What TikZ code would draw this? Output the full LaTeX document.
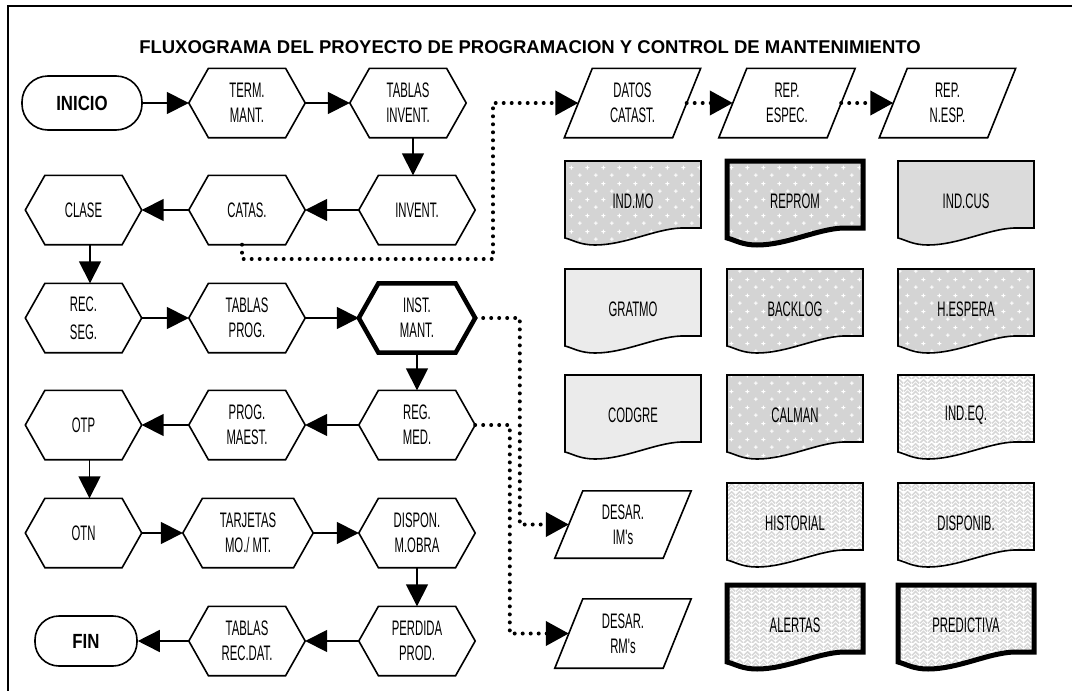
\documentclass[tikz,border=0pt]{standalone}
\usepackage{fontspec}
\setmainfont{Liberation Sans}
\newfontfamily\narrowfont[FakeStretch=0.54]{Liberation Sans}
\newfontfamily\narrowbold[FakeStretch=0.82]{Liberation Sans}
\usetikzlibrary{arrows.meta,patterns.meta}

\tikzdeclarepattern{
  name=plusdots, type=uncolored,
  bottom left={(0pt,0pt)}, top right={(16pt,16pt)},
  tile size={(16pt,16pt)},
  code={
    \draw[line width=1pt] (2pt,4pt) -- (6pt,4pt) (4pt,2pt) -- (4pt,6pt)
      (10pt,12pt) -- (14pt,12pt) (12pt,10pt) -- (12pt,14pt);
  }
}
\tikzdeclarepattern{
  name=weave, type=uncolored,
  bottom left={(0pt,0pt)}, top right={(8pt,8pt)},
  tile size={(8pt,8pt)},
  code={
    \draw[line width=1.6pt] (0pt,0pt) -- (4pt,4pt) -- (8pt,0pt)
      (0pt,4pt) -- (4pt,8pt) -- (8pt,4pt);
  }
}

% document symbol: top left corner at (#2,#3)
\newcommand\docbox[5]{%
  \begin{scope}[shift={(#2,#3)}]
    \draw[#4] (0,0) -- (136,0) -- (136,67) -- (116,67)
      .. controls (90,68) and (60,84) .. (30,84)
      .. controls (15,84) and (8,79) .. (0,77) -- cycle;
    \node[doctext] (#1) at (68,40) {#5};
  \end{scope}}

\begin{document}
\begin{tikzpicture}[x=1pt,y=-1pt,
    hexa/.style={minimum width=116pt,minimum height=69pt,inner sep=0pt,align=center,
      font=\narrowfont\fontsize{21pt}{25pt}\selectfont},
    para/.style={hexa,minimum width=136pt},
    term/.style={draw,line width=1.6pt,rounded corners=26pt,minimum width=120pt,
      minimum height=54pt,inner sep=0pt,font=\narrowbold\bfseries\fontsize{20.5pt}{22pt}\selectfont},
    hexline/.style={line width=1.6pt},
    arr/.style={line width=1.6pt,-{Triangle[length=22pt,width=22pt]}},
    dotarr/.style={line width=4pt,line cap=round,dash pattern=on 0pt off 8pt,
      -{Triangle[length=23pt,width=24pt]}},
    doctext/.style={inner sep=0pt,font=\narrowfont\fontsize{21pt}{25pt}\selectfont},
    docline/.style={line width=1.6pt},
    heavy/.style={line width=5pt},
    dotsfill/.style={docline,preaction={fill=gray!34},pattern=plusdots,pattern color=white},
    checkfill/.style={docline,fill=gray!28},
    plainfill/.style={docline,fill=gray!16},
    weavefill/.style={docline,pattern=weave,pattern color=gray!32}]
  \useasboundingbox (0,0) rectangle (1072,691);
  \draw[line width=2.5pt] (8,691) -- (8,6) -- (1072,6);

  \node[font=\bfseries\fontsize{18.5pt}{22pt}\selectfont] (title) at (530,47)
    {FLUXOGRAMA DEL PROYECTO DE PROGRAMACION Y CONTROL DE MANTENIMIENTO};

  % main flow
  \node[term] (inicio) at (82,103) {INICIO};
  \node[hexa] (termm) at (247,103) {TERM.\\MANT.};
  \node[hexa] (tabinv) at (408,103) {TABLAS\\INVENT.};
  \node[hexa] (invent) at (417,210) {INVENT.};
  \node[hexa] (catas) at (247,210) {CATAS.};
  \node[hexa] (clase) at (83.5,210) {CLASE};
  \node[hexa] (recseg) at (83.5,318) {REC.\\[3pt]SEG.};
  \node[hexa] (tabprog) at (247,318) {TABLAS\\PROG.};
  \node[hexa] (instm) at (417,318) {INST.\\MANT.};
  \node[hexa] (regmed) at (417,425) {REG.\\MED.};
  \node[hexa] (progm) at (247,425) {PROG.\\MAEST.};
  \node[hexa] (otp) at (83.5,425) {OTP};
  \node[hexa] (otn) at (83.5,533) {OTN};
  \node[hexa,minimum width=130pt] (tarj) at (248,533) {TARJETAS\\MO./ MT.};
  \node[hexa] (dispon) at (417,533) {DISPON.\\M.OBRA};
  \node[hexa] (perdida) at (417,641) {PERDIDA\\PROD.};
  \node[hexa] (tabrec) at (247,641) {TABLAS\\REC.DAT.};
  \node[term,minimum width=102pt,minimum height=50pt,rounded corners=24pt] (fin) at (86,641) {FIN};

  \foreach \n in {termm,tabinv,invent,catas,clase,recseg,tabprog,regmed,progm,otp,otn,tarj,dispon,perdida,tabrec}
    \draw[hexline] (\n.west) -- ([xshift=19.6pt]\n.north west) -- ([xshift=-19.6pt]\n.north east)
      -- (\n.east) -- ([xshift=-19.6pt]\n.south east) -- ([xshift=19.6pt]\n.south west) -- cycle;
  \draw[line width=4.5pt] (instm.west) -- ([xshift=19.6pt]instm.north west) -- ([xshift=-19.6pt]instm.north east)
      -- (instm.east) -- ([xshift=-19.6pt]instm.south east) -- ([xshift=19.6pt]instm.south west) -- cycle;

  \draw[arr] (inicio) -- (termm);
  \draw[arr] (termm) -- (tabinv);
  \draw[arr] ([xshift=5pt]tabinv.south) -- ([xshift=-4pt]invent.north);
  \draw[arr] (invent) -- (catas);
  \draw[arr] (catas) -- (clase);
  \draw[arr] ([xshift=6.5pt]clase.south) -- ([xshift=6.5pt]recseg.north);
  \draw[arr] (recseg) -- (tabprog);
  \draw[arr] (tabprog) -- (instm);
  \draw[arr] (instm) -- (regmed);
  \draw[arr] (regmed) -- (progm);
  \draw[arr] (progm) -- (otp);
  \draw[arr] ([xshift=6pt]otp.south) -- ([xshift=6pt]otn.north);
  \draw[arr] (otn) -- (tarj);
  \draw[arr] (tarj) -- (dispon);
  \draw[arr] (dispon) -- (perdida);
  \draw[arr] (perdida) -- (tabrec);
  \draw[arr] (tabrec) -- (fin);

  % reports
  \node[para] (datos) at (632.5,103) {DATOS\\CATAST.};
  \node[para] (repesp) at (787,103) {REP.\\ESPEC.};
  \node[para] (repnesp) at (947.5,103) {REP.\\N.ESP.};
  \node[para,minimum height=67pt] (desim) at (623,524.5) {DESAR.\\IM's};
  \node[para] (desrm) at (623,633.5) {DESAR.\\RM's};
  \foreach \n in {datos,repesp,repnesp,desim,desrm}
    \draw[hexline] (\n.south west) -- ([xshift=28pt]\n.north west) -- (\n.north east)
      -- ([xshift=-28pt]\n.south east) -- cycle;

  \coordinate (bend) at (493,259);
  \draw[dotarr] ([xshift=-5pt]catas.south) |- (bend) |- ([xshift=14pt]datos.west);
  \draw[dotarr] ([xshift=-14pt]datos.east) -- ([xshift=14pt]repesp.west);
  \draw[dotarr] ([xshift=-14pt]repesp.east) -- ([xshift=14pt]repnesp.west);
  \draw[dotarr] (instm.east) -| ([xshift=-35pt]desim.west) -- ([xshift=14pt]desim.west);
  \draw[dotarr] (regmed.east) -| ([xshift=-45pt]desrm.west) -- ([xshift=14pt]desrm.west);

  % files
  \docbox{indmo}{565}{161}{dotsfill}{IND.MO}
  \docbox{reprom}{727}{161}{dotsfill,heavy}{REPROM}
  \docbox{indcus}{898}{161}{checkfill}{IND.CUS}
  \docbox{gratmo}{565}{269}{plainfill}{GRATMO}
  \docbox{backlog}{727}{269}{dotsfill}{BACKLOG}
  \docbox{hespera}{898}{269}{dotsfill}{H.ESPERA}
  \docbox{codgre}{565}{375}{plainfill}{CODGRE}
  \docbox{calman}{727}{375}{dotsfill}{CALMAN}
  \docbox{indeq}{898}{375}{weavefill}{IND.EQ.}
  \docbox{historial}{727}{483}{weavefill}{HISTORIAL}
  \docbox{disponib}{898}{483}{weavefill}{DISPONIB.}
  \docbox{alertas}{727}{585}{weavefill,heavy}{ALERTAS}
  \docbox{predictiva}{898}{585}{weavefill,heavy}{PREDICTIVA}
\end{tikzpicture}
\end{document}
